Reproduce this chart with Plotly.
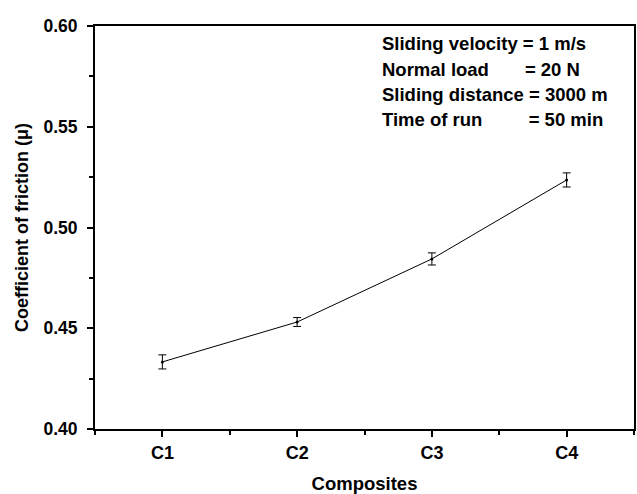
import plotly.graph_objects as go

categories = ["C1", "C2", "C3", "C4"]
cof = [0.4333, 0.4531, 0.4844, 0.5236]
cof_err = [0.0035, 0.0022, 0.0030, 0.0035]
y_ticks = [0.40, 0.45, 0.50, 0.55, 0.60]
notes = [
    "Sliding velocity = 1 m/s",
    "Normal load\u00a0\u00a0\u00a0\u00a0\u00a0\u00a0\u00a0= 20 N",
    "Sliding distance = 3000 m",
    "Time of run\u00a0\u00a0\u00a0\u00a0\u00a0\u00a0\u00a0\u00a0\u00a0= 50 min",
]

x_idx = list(range(len(categories)))
FONT = "Liberation Sans, Arial, sans-serif"

fig = go.Figure()
fig.add_trace(go.Scatter(
    x=x_idx, y=cof, mode="lines+markers",
    line=dict(color="black", width=1),
    marker=dict(color="black", size=3),
    error_y=dict(type="data", array=cof_err, visible=True, color="black", thickness=1, width=4),
    showlegend=False,
))

plot_w = 541.0
plot_h = 403.0
for i, t in enumerate(notes):
    fig.add_annotation(
        x=(381 - 95) / plot_w, y=1 - (44 + 25 * i - 26) / plot_h,
        xref="paper", yref="paper",
        text=f"<b>{t}</b>", showarrow=False,
        xanchor="left", yanchor="middle",
        font=dict(family=FONT, size=18.5, color="black"),
    )

fig.update_layout(
    width=637, height=494,
    margin=dict(l=95, r=1, t=26, b=65),
    paper_bgcolor="white", plot_bgcolor="white",
    font=dict(family=FONT, color="black"),
    xaxis=dict(
        range=[-0.5, 3.5], tickmode="array", tickvals=x_idx,
        ticktext=[f"<b>{c}</b>" for c in categories],
        ticks="outside", ticklen=6, tickwidth=2, tickcolor="black",
        showline=True, linewidth=2, linecolor="black", mirror=True,
        showgrid=False, zeroline=False,
        tickfont=dict(family=FONT, size=18, color="black"),
        minor=dict(tickmode="linear", tick0=-0.5, dtick=1, ticks="outside", ticklen=4, tickwidth=2, tickcolor="black", showgrid=False),
        title=dict(text="<b>Composites</b>", font=dict(family=FONT, size=18.5, color="black"), standoff=15),
    ),
    yaxis=dict(
        range=[0.40, 0.60], tickmode="array", tickvals=y_ticks,
        ticktext=[f"<b>{v:.2f}</b>" for v in y_ticks],
        ticks="outside", ticklen=6, tickwidth=2, tickcolor="black",
        ticklabelstandoff=6,
        showline=True, linewidth=2, linecolor="black", mirror=True,
        showgrid=False, zeroline=False,
        tickfont=dict(family=FONT, size=17.5, color="black"),
        minor=dict(tickmode="linear", tick0=0.40, dtick=0.025, ticks="outside", ticklen=4, tickwidth=2, tickcolor="black", showgrid=False),
        title=dict(text="<b>Coefficient of friction (\u03bc)</b>", font=dict(family=FONT, size=18, color="black"), standoff=10),
    ),
)

fig.write_html("out.html", config={"displayModeBar": False},
               post_script="document.body.style.margin='0';")
